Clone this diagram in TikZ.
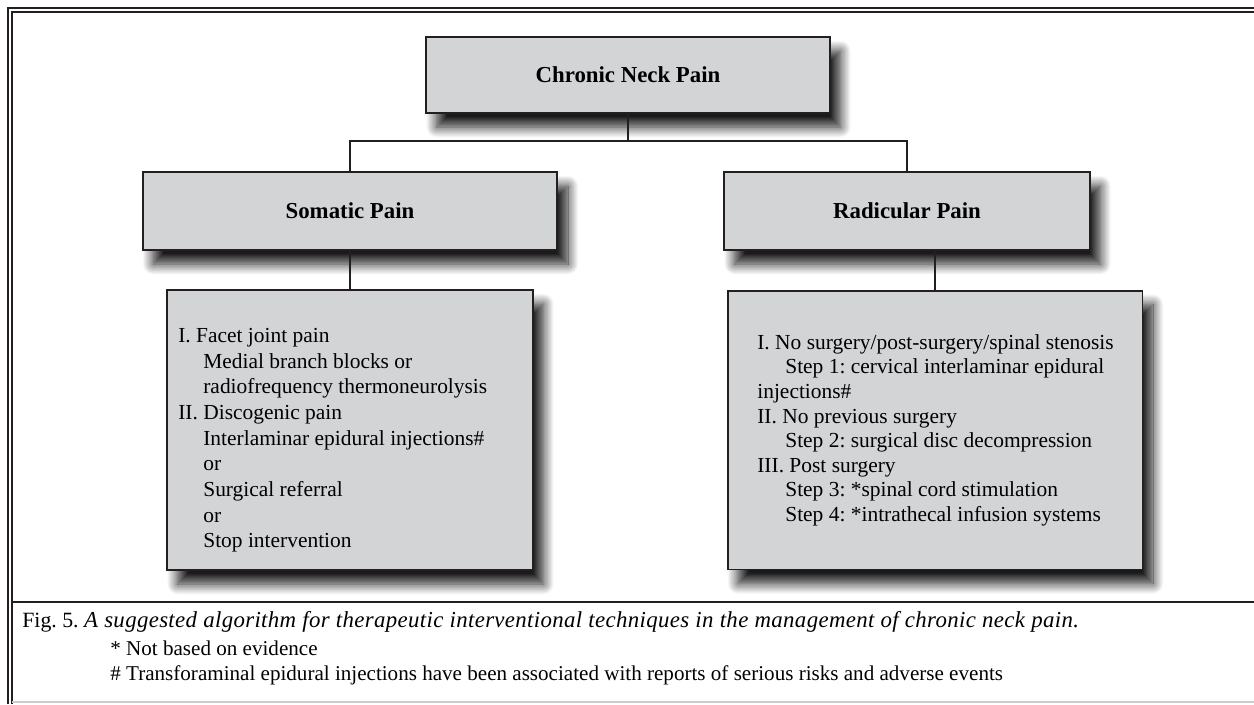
\documentclass[tikz,border=0pt]{standalone}
\usepackage{fontspec}
\setmainfont{Liberation Serif}
\newfontfamily\capfont[LetterSpace=1.5]{Liberation Serif}
\usetikzlibrary{positioning,shadows.blur}
\frenchspacing

\definecolor{boxgray}{HTML}{D3D4D6}
\definecolor{inkline}{HTML}{231F20}

\tikzset{
  boxshadow/.style={blur shadow={shadow xshift=6pt, shadow yshift=-8pt,
      shadow blur radius=6pt, shadow blur steps=14, shadow opacity=90}},
  headbox/.style={draw=inkline, line width=1.1pt, fill=boxgray, boxshadow,
      font=\bfseries\fontsize{13}{15}\selectfont, inner sep=0pt},
  listbox/.style={draw=inkline, line width=1.1pt, fill=boxgray, boxshadow, inner sep=0pt},
  listtext/.style={align=left, inner sep=0pt, anchor=north west},
  link/.style={draw=inkline, line width=1.1pt},
  frameline/.style={draw=inkline, line width=1.2pt}
}

\begin{document}
\begin{tikzpicture}[x=0.02cm, y=-0.02cm]
    \useasboundingbox (0,0) rectangle (1254,704);

    % outer frame
    \draw[frameline, line width=1.4pt] (8,704) -- (8,8) -- (1254,8);
    \draw[frameline, line width=0.6pt] (12,704) -- (12,12) -- (1254,12);
    \draw[frameline] (12,602) -- (1254,602);
    \draw[black!20, line width=0.6pt] (12,702) -- (1254,702);

    % top level
    \node[headbox, minimum width=8.08cm, minimum height=1.52cm] (chronic) at (628,75) {Chronic Neck Pain};

    % two branches
    \node[headbox, minimum width=8.3cm, minimum height=1.56cm] (somatic) at (350,211) {Somatic Pain};
    \node[headbox, minimum width=7.32cm, minimum height=1.56cm] (radicular) at (907,211) {Radicular Pain};

    % treatment lists
    \node[listbox, minimum width=7.32cm, minimum height=5.6cm] (leftlist) at (350,430) {};
    \node[listtext, font=\fontsize{12.2}{14.6}\selectfont] (lefttext) at (178,328) {%
      I. Facet joint pain\\
      \hspace*{0.5cm}Medial branch blocks or\\
      \hspace*{0.5cm}radiofrequency thermoneurolysis\\
      II. Discogenic pain\\
      \hspace*{0.5cm}Interlaminar epidural injections\#\\
      \hspace*{0.5cm}or\\
      \hspace*{0.5cm}Surgical referral\\
      \hspace*{0.5cm}or\\
      \hspace*{0.5cm}Stop intervention};
    \node[listbox, minimum width=8.3cm, minimum height=5.58cm] (rightlist) at (935,430) {};
    \node[listtext, font=\fontsize{12.2}{14}\selectfont] (righttext) at (757,334) {%
      I. No surgery/post-surgery/spinal stenosis\\
      \hspace*{0.56cm}Step 1: cervical interlaminar epidural\\
      injections\#\\
      II. No previous surgery\\
      \hspace*{0.56cm}Step 2: surgical disc decompression\\
      III. Post surgery\\
      \hspace*{0.56cm}Step 3: *spinal cord stimulation\\
      \hspace*{0.56cm}Step 4: *intrathecal infusion systems};

    % connectors
    \coordinate (split) at (628,141);
    \draw[link] (chronic.south) -- (split);
    \draw[link] (somatic.north) |- (split) -| (radicular.north);
    \draw[link] (somatic) -- (leftlist);
    \draw[link] (rightlist.north) -- (rightlist.north |- radicular.south);

    % caption
    \node[anchor=west, font=\fontsize{12.4}{15}\selectfont, inner sep=0pt] (caption) at (22,622)
      {Fig. 5. {\capfont\itshape\fontsize{13}{15}\selectfont\makebox[19.9cm][s]{A suggested algorithm for therapeutic interventional techniques in the management of chronic neck pain.}}};
    \node[anchor=west, font=\fontsize{12}{14}\selectfont, inner sep=0pt] (note1) at (110,648) {* Not based on evidence};
    \node[anchor=west, font=\fontsize{12}{14}\selectfont, inner sep=0pt] (note2) at (110,675)
      {\# Transforaminal epidural injections have been associated with reports of serious risks and adverse events};
\end{tikzpicture}
\end{document}
